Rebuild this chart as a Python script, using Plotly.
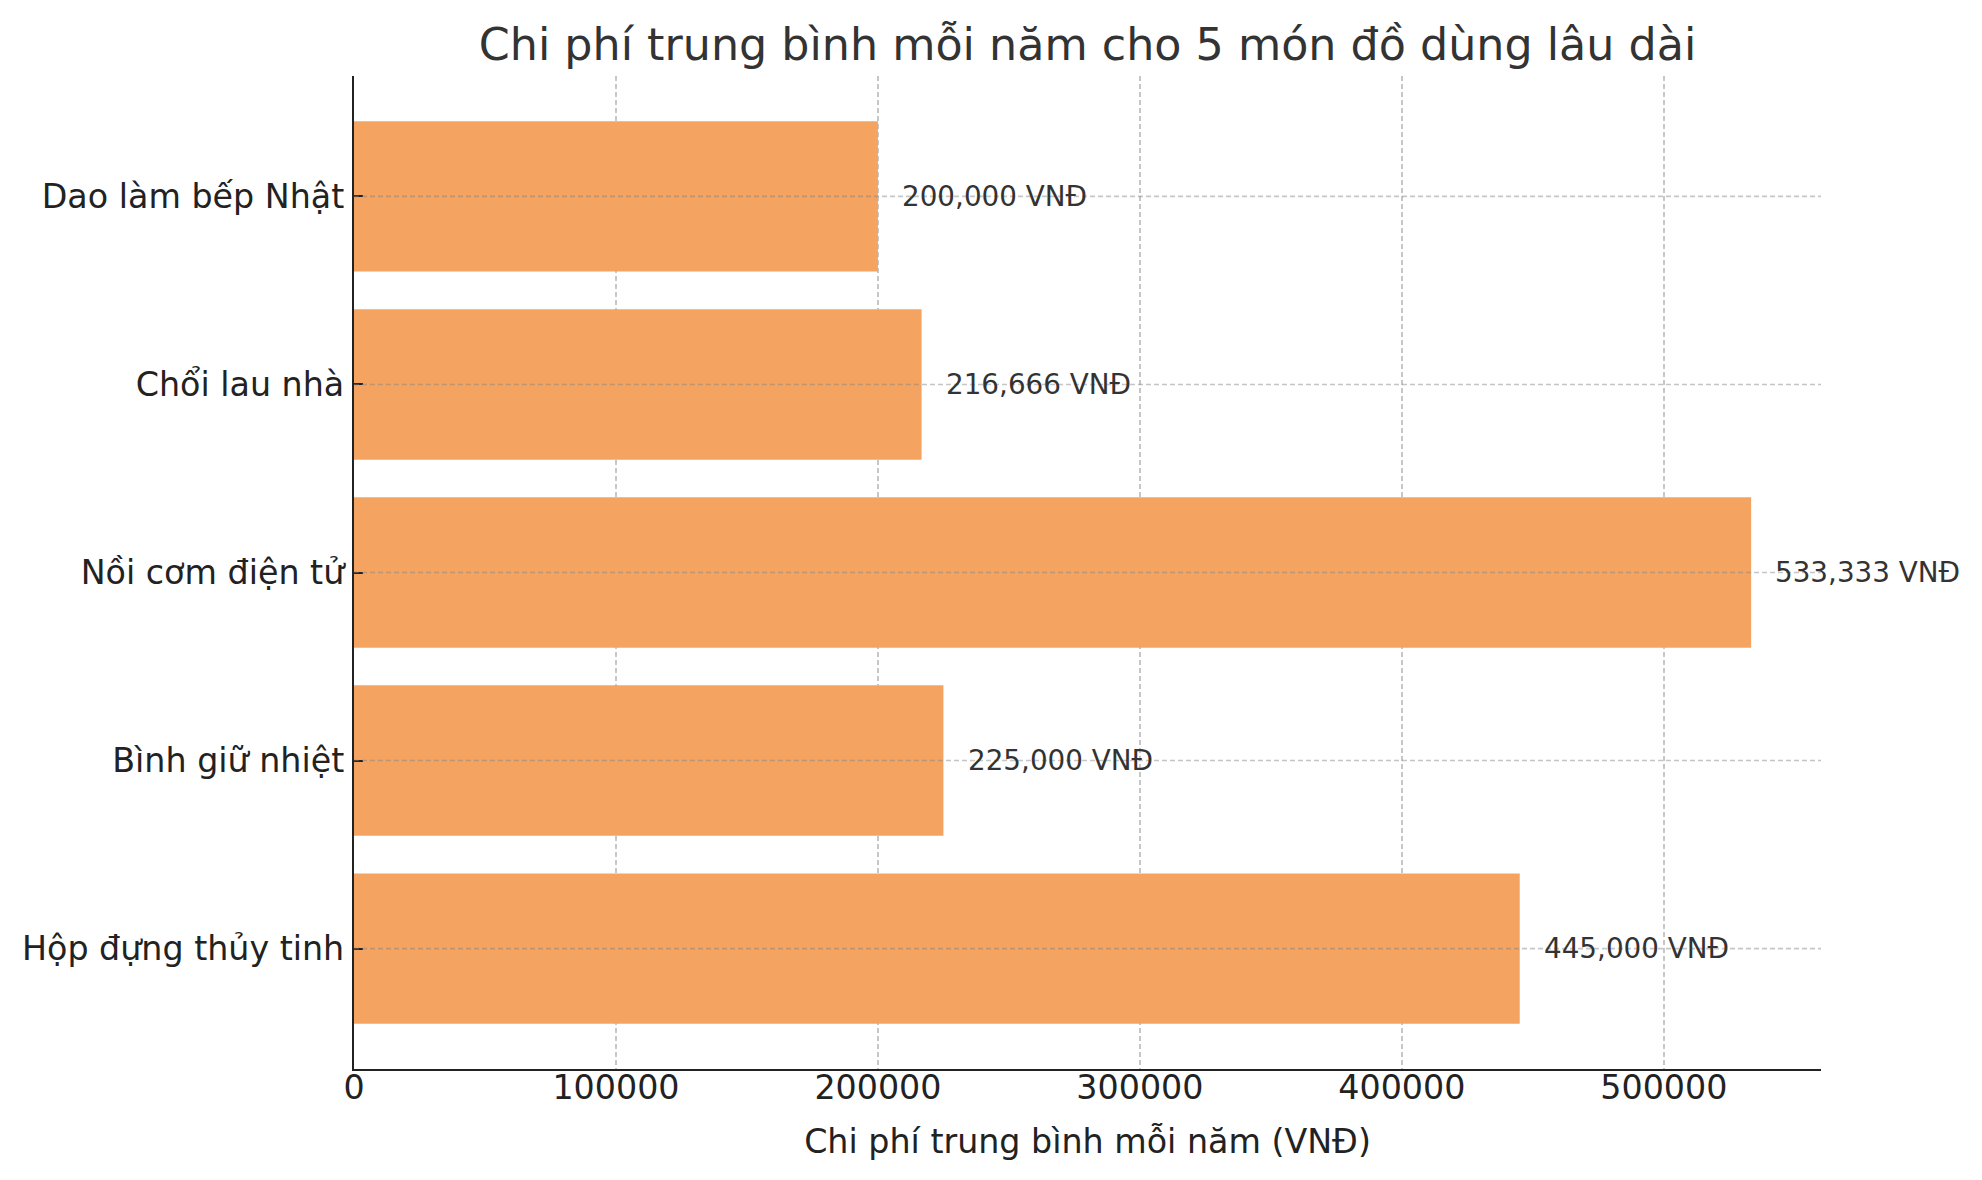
import plotly.graph_objects as go

categories = ["Dao làm bếp Nhật", "Chổi lau nhà", "Nồi cơm điện tử", "Bình giữ nhiệt", "Hộp đựng thủy tinh"]
values = [200000, 216666, 533333, 225000, 445000]
value_labels = ["200,000 VNĐ", "216,666 VNĐ", "533,333 VNĐ", "225,000 VNĐ", "445,000 VNĐ"]
x_ticks = [0, 100000, 200000, 300000, 400000, 500000]
x_tick_labels = ["0", "100000", "200000", "300000", "400000", "500000"]
label_offset = 10000

FONT = "DejaVu Sans"
W, H = 1982, 1180
L, R, T, B = 354, 161, 76, 111
GRID_COLOR = "rgba(128,128,128,0.45)"
GRID_DASH = "5px,3px"

fig = go.Figure()
fig.add_trace(go.Bar(
    y=categories, x=values, orientation="h", width=0.8,
    marker=dict(color="#F4A460", line=dict(width=0)),
    hoverinfo="skip",
))

# horizontal grid lines (drawn above bars, as in the reference)
for c in categories:
    fig.add_shape(type="line", xref="paper", x0=0, x1=1, yref="y", y0=c, y1=c,
                  line=dict(color=GRID_COLOR, width=1.6, dash=GRID_DASH), layer="above")

for c, v, t in zip(categories, values, value_labels):
    fig.add_annotation(x=v + label_offset, y=c, text=t, showarrow=False,
                       xanchor="left", yanchor="middle", xshift=-3, borderpad=0,
                       font=dict(family=FONT, size=27.8, color="#333333"))

fig.update_layout(
    width=W, height=H,
    margin=dict(l=L, r=R, t=T, b=B, pad=0),
    paper_bgcolor="white", plot_bgcolor="white",
    showlegend=False,
    font=dict(family=FONT, color="#222222"),
    title=dict(text="Chi phí trung bình mỗi năm cho 5 món đồ dùng lâu dài",
               x=0.5, xref="paper", xanchor="center",
               y=1, yref="paper", yanchor="bottom", pad=dict(b=16),
               font=dict(family=FONT, size=44.4, color="#333333")),
)

fig.update_xaxes(
    range=[0, 560000], tickvals=x_ticks, ticktext=x_tick_labels,
    showgrid=True, gridcolor=GRID_COLOR, griddash=GRID_DASH, gridwidth=1.6,
    showline=True, linecolor="#222222", linewidth=2.2,
    ticks="", ticklabelstandoff=-12,
    tickfont=dict(family=FONT, size=33.3, color="#222222"),
    title=dict(text="Chi phí trung bình mỗi năm (VNĐ)", standoff=24,
               font=dict(family=FONT, size=33.3, color="#222222")),
    zeroline=False, mirror=False,
)
fig.update_yaxes(
    categoryorder="array", categoryarray=categories[::-1],
    range=[-0.64, 4.64],
    showgrid=False,
    showline=True, linecolor="#222222", linewidth=2.2,
    ticks="inside", ticklen=9, tickwidth=2.2, tickcolor="#222222",
    tickfont=dict(family=FONT, size=33.3, color="#222222"),
    ticklabelstandoff=1,
    zeroline=False, mirror=False,
)

fig.write_html("out.html", config={"displayModeBar": False},
               post_script="document.body.style.margin='0';")
